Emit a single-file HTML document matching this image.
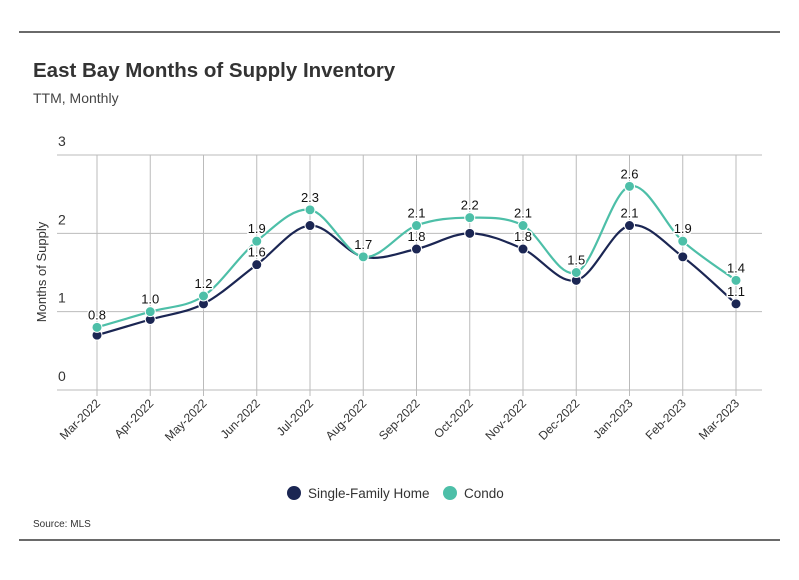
<!DOCTYPE html>
<html><head><meta charset="utf-8"><style>
body{margin:0;background:#fff;}
svg text{font-family:"Liberation Sans",sans-serif;}
</style></head><body>
<svg width="799" height="575" xmlns="http://www.w3.org/2000/svg">
<line x1="19" y1="32" x2="780" y2="32" stroke="#111" stroke-width="1.2"/>
<text x="33" y="77" font-size="20.5" font-weight="bold" fill="#333">East Bay Months of Supply Inventory</text>
<text x="33" y="103" font-size="14" fill="#444">TTM, Monthly</text>
<g id="grid"></g>
<text transform="translate(46,272) rotate(-90)" text-anchor="middle" font-size="13" fill="#333">Months of Supply</text>
<g id="series"></g>
<g>
<circle cx="294" cy="493" r="7" fill="#1b2653"/>
<text x="308" y="498" font-size="13.5" fill="#333">Single-Family Home</text>
<circle cx="450" cy="493" r="7" fill="#4dbfa8"/>
<text x="464" y="498" font-size="13.5" fill="#333">Condo</text>
</g>
<text x="33" y="527" font-size="10" fill="#333">Source:  MLS</text>
<line x1="19" y1="540" x2="780" y2="540" stroke="#111" stroke-width="1.2"/>
</svg>
<script>
const categories=["Mar-2022","Apr-2022","May-2022","Jun-2022","Jul-2022","Aug-2022","Sep-2022","Oct-2022","Nov-2022","Dec-2022","Jan-2023","Feb-2023","Mar-2023"];
const sfhValues=[0.7,0.9,1.1,1.6,2.1,1.7,1.8,2.0,1.8,1.4,2.1,1.7,1.1];
const condoValues=[0.8,1.0,1.2,1.9,2.3,1.7,2.1,2.2,2.1,1.5,2.6,1.9,1.4];
const sfhLabelIdx=[3,6,8,10,12];
const yTicks=[0,1,2,3];
const NS="http://www.w3.org/2000/svg";
const x=i=>97+i*(736-97)/(categories.length-1);
const y=v=>390-v*78.33;
function mk(tag,attrs,parent){const e=document.createElementNS(NS,tag);for(const k in attrs)e.setAttribute(k,attrs[k]);parent.appendChild(e);return e;}
const grid=document.getElementById('grid'),ser=document.getElementById('series');
yTicks.forEach(t=>{
 const l=mk('line',{x1:57,x2:762,y1:y(t),y2:y(t),stroke:'#bbb','stroke-width':1},grid);
 
 
 const tx=mk('text',{x:58,y:y(t)-9,'font-size':14,fill:'#333'},grid);tx.textContent=t;
 
 
});
categories.forEach((c,i)=>{
 const l=mk('line',{x1:x(i),x2:x(i),y1:y(3),y2:y(0)+6,stroke:'#bbb','stroke-width':1},grid);
 
 
 const tx=mk('text',{x:x(i)+4,y:y(0)+14,'font-size':12,fill:'#333','text-anchor':'end',transform:`rotate(-45 ${x(i)+4} ${y(0)+14})`},grid);tx.textContent=c;
 
 
});
function path(vals){const p=vals.map((v,i)=>[x(i),y(v)]);let d=`M${p[0][0]},${p[0][1]}`;
 for(let i=0;i<p.length-1;i++){const p0=p[Math.max(0,i-1)],p1=p[i],p2=p[i+1],p3=p[Math.min(p.length-1,i+2)];
 const c1=[p1[0]+(p2[0]-p0[0])/6,p1[1]+(p2[1]-p0[1])/6],c2=[p2[0]-(p3[0]-p1[0])/6,p2[1]-(p3[1]-p1[1])/6];
 d+=` C${c1[0]},${c1[1]} ${c2[0]},${c2[1]} ${p2[0]},${p2[1]}`;}return d;}
function series(vals,color,name){
 const pl=mk('path',{d:path(vals),fill:'none',stroke:color,'stroke-width':2.2},ser);
 
 
 vals.forEach((v,i)=>{
  const c=mk('circle',{cx:x(i),cy:y(v),r:5,fill:color,stroke:'#fff','stroke-width':1},ser);
  
  
 });
}
series(sfhValues,'#1b2653','sfh');
series(condoValues,'#4dbfa8','condo');
function label(v,i,name){const t=mk('text',{x:x(i),y:y(v)-8,'font-size':13,fill:'#111','text-anchor':'middle',stroke:'#fff','stroke-width':3,'paint-order':'stroke'},ser);t.textContent=v.toFixed(1);
 
 }
condoValues.forEach((v,i)=>label(v,i,'condo'));
sfhLabelIdx.forEach(i=>label(sfhValues[i],i,'sfh'));
</script>
</body></html>
